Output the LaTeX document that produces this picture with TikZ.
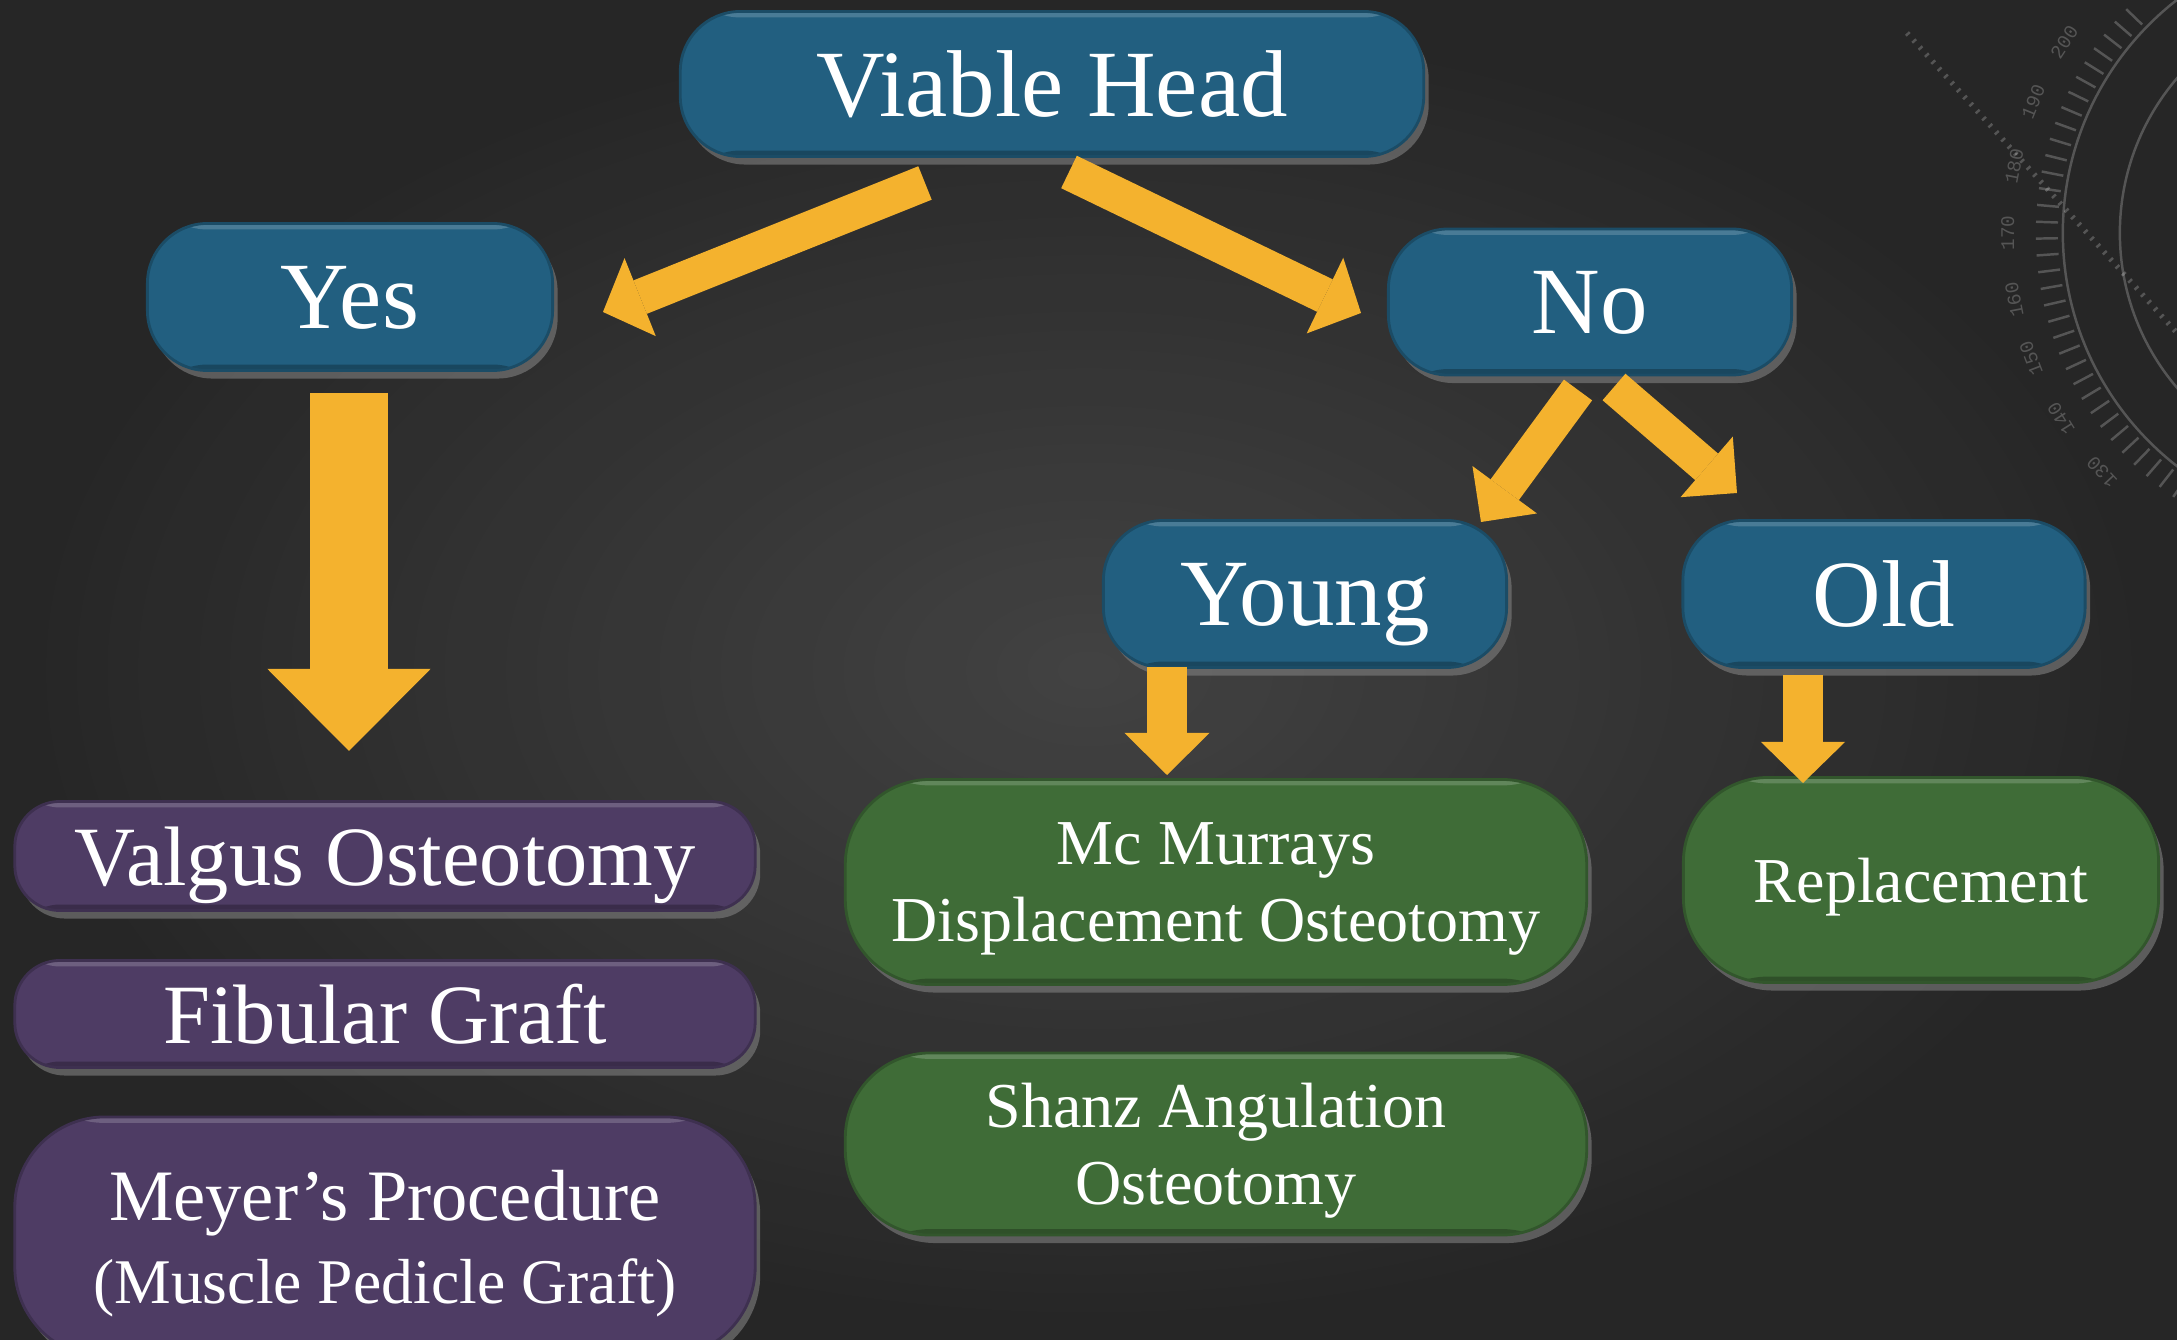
\documentclass[tikz,border=0pt]{standalone}
\usepackage{fontspec}
\setmainfont{Liberation Serif}
\setmonofont{Liberation Mono}
\usetikzlibrary{arrows.meta,shadows}

\definecolor{chalk}{HTML}{323232}
\definecolor{headblue}{HTML}{225F80}
\definecolor{yespurple}{HTML}{4E3C64}
\definecolor{nogreen}{HTML}{3F6C37}
\definecolor{arrowgold}{HTML}{F4B22E}

\begin{document}
\begin{tikzpicture}[x=0.01cm, y=-0.01cm,
	box/.style={text=white, align=center, inner sep=0pt, text depth=0pt, line width=0.8pt,
		drop shadow={opacity=0.6, shadow xshift=0.05cm, shadow yshift=-0.08cm},
		path picture={
			\fill[white, opacity=0.18] (path picture bounding box.north west) rectangle ([yshift=-0.06cm]path picture bounding box.north east);
			\fill[black, opacity=0.25] (path picture bounding box.south west) rectangle ([yshift=0.06cm]path picture bounding box.south east);
		}},
	bluebox/.style={box, fill=headblue, draw=headblue!80!black, rounded corners=0.6cm,
		font=\fontsize{27}{32}\selectfont},
	purplebox/.style={box, fill=yespurple, draw=yespurple!80!black, rounded corners=0.45cm,
		minimum width=7.4cm, font=\fontsize{24}{28}\selectfont},
	greenbox/.style={box, fill=nogreen, draw=nogreen!80!black, rounded corners=0.85cm,
		font=\fontsize{18.2}{22}\selectfont},
	goldarrow/.style n args={3}{draw=arrowgold, line width=#1,
		-{Triangle[width=#2 0, length=#3 0, line width=0pt 0]}},
	dialmark/.style={white, opacity=0.22, line width=0.7pt}
]

	\useasboundingbox (0,0) rectangle (2177,1340);
	\clip (0,0) rectangle (2177,1340);
	\fill[chalk] (0,0) rectangle (2177,1340);
	\shade[inner color=chalk!90!white, outer color=chalk!70!black, opacity=0.8] (0,0) rectangle (2177,1340);

	\coordinate (dial) at (2358,233);
	\draw[dialmark] (dial) circle (2.95cm) (dial) circle (2.38cm);
	\foreach \a in {136,139,...,236}
		\draw[dialmark] ([shift={(\a:3.0cm)}]dial) -- ([shift={(\a:3.22cm)}]dial);
	\foreach \n/\a in {130/223,140/212,150/201,160/191,170/180,180/169,190/158,200/147}
		\node[dialmark, rotate=\a-90, font=\ttfamily\fontsize{5.5}{5.5}\selectfont, inner sep=0pt] (dial\n) at ([shift={(\a:3.5cm)}]dial) {\n};
	\draw[dialmark, dotted, line width=1.5pt] (1907,33) -- (2177,333);

	\node[bluebox, minimum width=7.43cm, minimum height=1.45cm] (head) at (1052,84) {Viable Head};
	\node[bluebox, minimum width=4.05cm, minimum height=1.47cm] (yes) at (350,297) {Yes};
	\node[bluebox, minimum width=4.03cm, minimum height=1.46cm] (no) at (1590,302) {No};
	\node[bluebox, minimum width=4.03cm, minimum height=1.47cm] (young) at (1305,594) {Young};
	\node[bluebox, minimum width=4.02cm, minimum height=1.47cm] (old) at (1884,594) {Old};

	\node[purplebox, minimum height=1.09cm] (valgus) at (385,856) {Valgus Osteotomy};
	\node[purplebox, minimum height=1.07cm] (fibular) at (385,1014) {Fibular Graft};
	\node[purplebox, minimum height=2.40cm, rounded corners=0.9cm, font=\fontsize{20.6}{23.5}\selectfont] (meyer) at (385,1237)
		{Meyer’s Procedure\\{\fontsize{18.1}{22}\selectfont (Muscle Pedicle Graft)}};

	\node[greenbox, minimum width=7.41cm, minimum height=2.05cm] (mcmurray) at (1216,882) {Mc Murrays\\Displacement Osteotomy};
	\node[greenbox, minimum width=7.41cm, minimum height=1.82cm] (shanz) at (1216,1144) {Shanz Angulation\\Osteotomy};
	\node[greenbox, minimum width=4.75cm, minimum height=2.05cm] (replace) at (1921,880) {Replacement};

	\coordinate (headL) at (925,183);
	\coordinate (yesR) at (603,312);
	\coordinate (headR) at (1069,172);
	\coordinate (noL) at (1361,313);
	\coordinate (yesB) at (349,393);
	\coordinate (valgusT) at (349,751);
	\coordinate (noBL) at (1578,390);
	\coordinate (youngT) at (1481,522);
	\coordinate (noBR) at (1614,387);
	\coordinate (oldT) at (1737,493);
	\coordinate (youngB) at (1167,667);
	\coordinate (mcmurrayT) at (1167,775);
	\coordinate (oldB) at (1803,675);
	\coordinate (replaceT) at (1803,783);

	\draw[goldarrow={0.36cm}{0.84cm}{0.40cm}] (headL) -- (yesR);
	\draw[goldarrow={0.36cm}{0.84cm}{0.40cm}] (headR) -- (noL);
	\draw[goldarrow={0.77cm}{1.63cm}{0.82cm}] (yesB) -- (valgusT);
	\draw[goldarrow={0.35cm}{0.80cm}{0.40cm}] (noBL) -- (youngT);
	\draw[goldarrow={0.35cm}{0.80cm}{0.40cm}] (noBR) -- (oldT);
	\draw[goldarrow={0.40cm}{0.85cm}{0.42cm}] (youngB) -- (mcmurrayT);
	\draw[goldarrow={0.40cm}{0.84cm}{0.41cm}] (oldB) -- (replaceT);
\end{tikzpicture}
\end{document}
